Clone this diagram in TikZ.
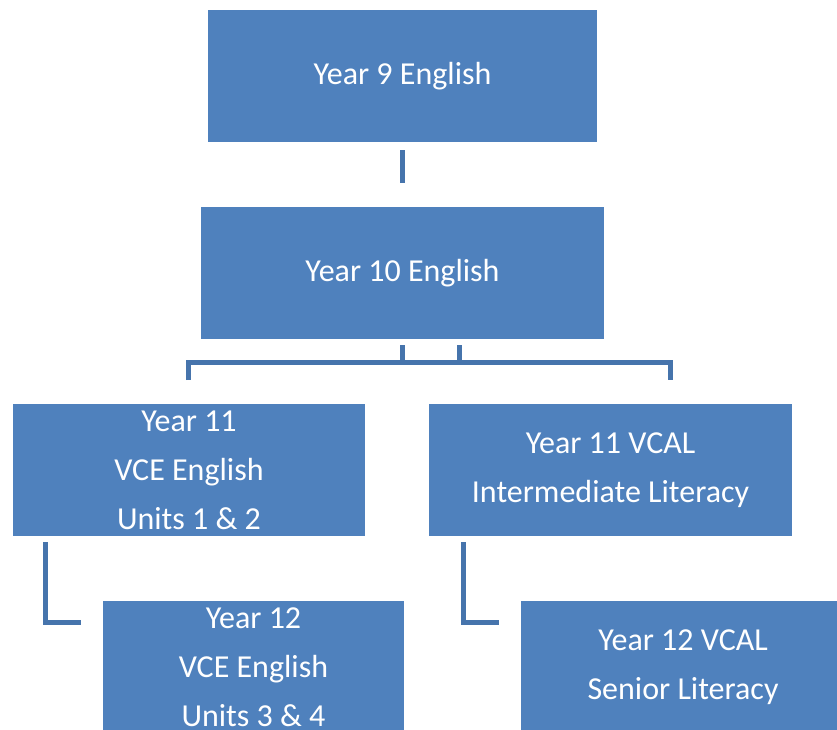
\documentclass[tikz,border=0pt]{standalone}
\usepackage{fontspec}
\setmainfont{Carlito}
\definecolor{boxblue}{HTML}{4F81BD}
\definecolor{lineblue}{HTML}{4674AC}

\begin{document}
\begin{tikzpicture}[x=0.75pt,y=-0.75pt]
	\tikzstyle{b}=[rectangle, fill=boxblue, text=white, align=center, inner sep=0pt,
		font=\fontsize{24}{36.75}\selectfont]
	\tikzstyle{l}=[draw=lineblue, line width=3.75pt]

	\useasboundingbox (0,0) rectangle (837,729);
	\clip (0,0) rectangle (837,729);

	\node[b, minimum width=389*0.75pt, minimum height=132*0.75pt] (y9) at (402.5,76) {Year 9 English};
	\node[b, minimum width=403*0.75pt, minimum height=132*0.75pt] (y10) at (402.5,273) {Year 10 English};
	\node[b, minimum width=352*0.75pt, minimum height=132*0.75pt] (y11a) at (189,470) {Year 11\\VCE English\\Units 1 \& 2};
	\node[b, minimum width=363*0.75pt, minimum height=132*0.75pt] (y11b) at (610.5,470) {Year 11 VCAL\\Intermediate Literacy};
	\node[b, minimum width=301*0.75pt, minimum height=132*0.75pt] (y12a) at (253.5,667) {Year 12\\VCE English\\Units 3 \& 4};
	\node[b, minimum width=324*0.75pt, minimum height=132*0.75pt] (y12b) at (683,667) {Year 12 VCAL\\Senior Literacy};

	% bracket points
	\coordinate (s1) at (402,345);
	\coordinate (s2) at (459,345);
	\coordinate (ml) at (188,362);
	\coordinate (mr) at (670,362);
	\coordinate (bl) at (188,380);
	\coordinate (br) at (670,380);
	\coordinate (t1) at (45,542);
	\coordinate (e1) at (81,622);
	\coordinate (t2) at (463,542);
	\coordinate (e2) at (499,622);

	\draw[l, shorten <=6pt, shorten >=18pt] (y9) -- (y10);
	\draw[l] (bl) -- (ml) -- (mr) -- (br);
	\foreach \s in {s1,s2}
		\draw[l] (\s) -- (\s |- ml);
	\draw[l] (t1) |- (e1);
	\draw[l] (t2) |- (e2);
\end{tikzpicture}
\end{document}
